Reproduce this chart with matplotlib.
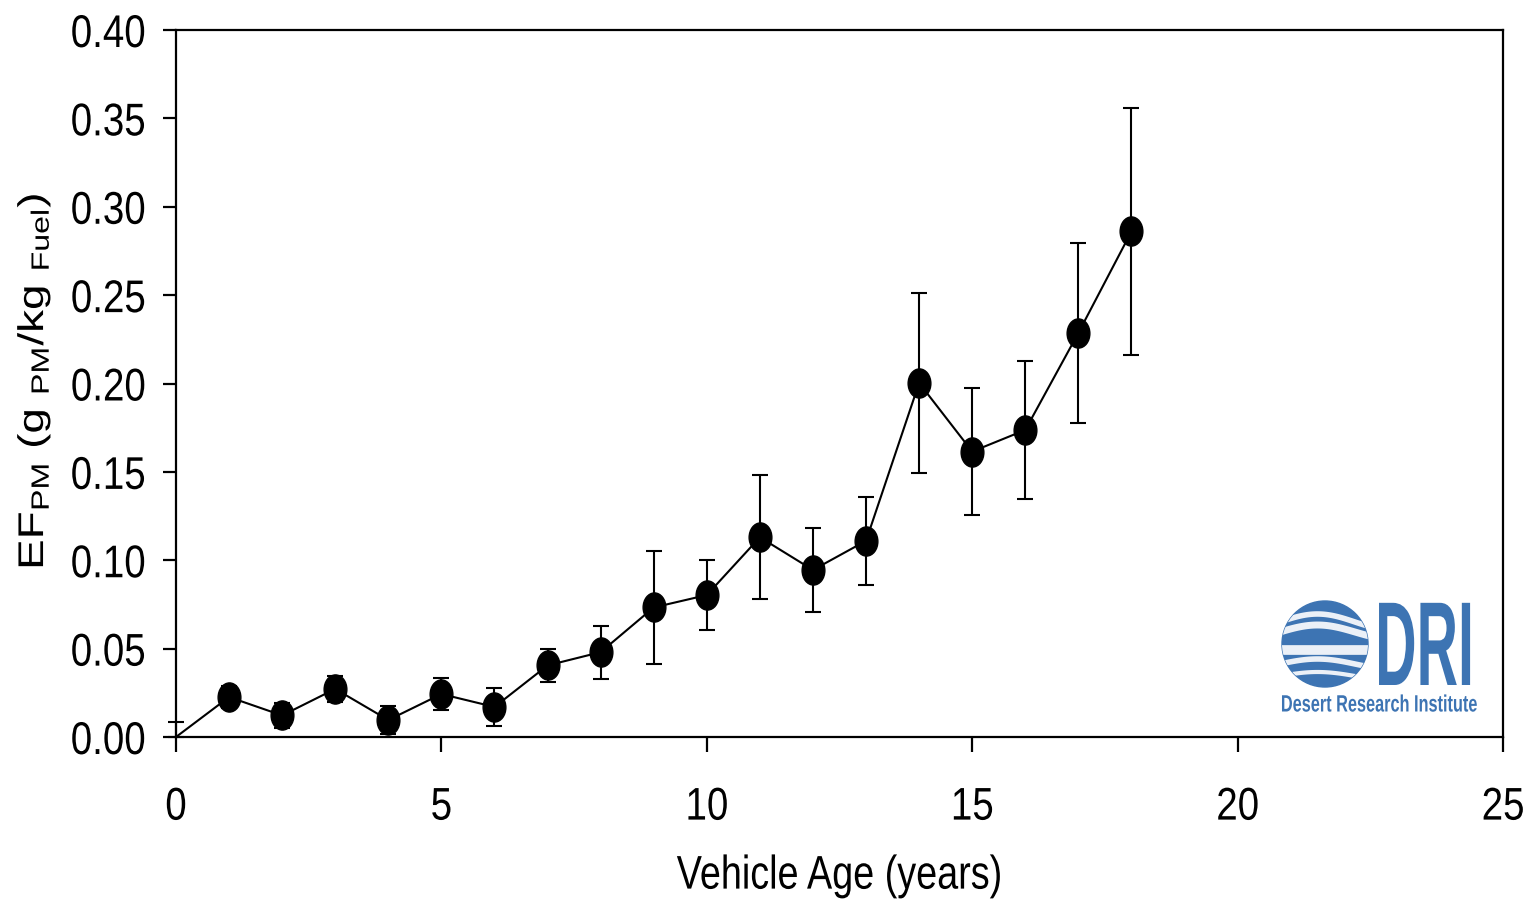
import matplotlib
matplotlib.use("Agg")
import matplotlib.pyplot as plt
import numpy as np
from matplotlib.path import Path
from matplotlib.transforms import Affine2D
from matplotlib.patches import Circle
from matplotlib.patheffects import AbstractPathEffect

# Data
age = [0, 1, 2, 3, 4, 5, 6, 7, 8, 9, 10, 11, 12, 13, 14, 15, 16, 17, 18]
ef_pm = [0.0, 0.0226, 0.0122, 0.0272, 0.0096, 0.0243, 0.0170, 0.0405, 0.0480,
         0.0733, 0.0803, 0.1130, 0.0945, 0.1110, 0.2003, 0.1615, 0.1737, 0.2286, 0.2860]
err = [0.0085, 0.006, 0.007, 0.0075, 0.008, 0.009, 0.011, 0.0095, 0.015,
       0.032, 0.020, 0.035, 0.024, 0.025, 0.051, 0.036, 0.039, 0.051, 0.070]
x_ticks = [0, 5, 10, 15, 20, 25]
y_ticks = [0.00, 0.05, 0.10, 0.15, 0.20, 0.25, 0.30, 0.35, 0.40]


class Squeeze(AbstractPathEffect):
    # squeeze text horizontally (screen x) to mimic the narrow look of the original
    def __init__(self, sx, anchor="center"):
        super().__init__()
        self.sx = sx
        self.anchor = anchor

    def draw_path(self, renderer, gc, tpath, affine, rgbFace=None):
        ext = affine.transform_path(tpath).get_extents()
        if self.anchor == "right":
            x0 = ext.x1
        elif self.anchor == "left":
            x0 = ext.x0
        else:
            x0 = 0.5 * (ext.x0 + ext.x1)
        aff = affine + Affine2D().translate(-x0, 0).scale(self.sx, 1).translate(x0, 0)
        renderer.draw_path(gc, tpath, aff, rgbFace)


plt.rcParams["mathtext.default"] = "regular"
sans = ["Liberation Sans", "DejaVu Sans"]

fig = plt.figure(figsize=(15.32, 9.02), dpi=100)
ax = fig.add_axes([176 / 1532, 1 - 737 / 902, 1327 / 1532, 707 / 902])

# Tall ellipse marker
ellipse = Affine2D().scale(0.78, 1.0).transform_path(Path.unit_circle())

ax.plot(age, ef_pm, color="black", lw=1.5, zorder=2)
ax.errorbar(age[1:], ef_pm[1:], yerr=err[1:], fmt="none", ecolor="black",
            elinewidth=1.5, capsize=6, capthick=1.5, zorder=2)
# point at 0 only shows its upper error cap
ax.errorbar(age[:1], ef_pm[:1], yerr=[[0], err[:1]], fmt="none", ecolor="black",
            elinewidth=1.5, capsize=6, capthick=1.5, zorder=2, clip_on=False)
ax.plot(age[1:], ef_pm[1:], linestyle="none", marker=ellipse, markersize=21,
        color="black", zorder=3)

ax.set_xlim(0, 25)
ax.set_ylim(0, 0.40)
ax.set_xticks(x_ticks)
ax.set_yticks(y_ticks)
ax.set_yticklabels([f"{v:.2f}" for v in y_ticks])

for s in ax.spines.values():
    s.set_linewidth(1.6)
ax.tick_params(direction="out", width=1.6, labelsize=33, top=False, right=False)
ax.tick_params(axis="x", length=11, pad=24)
ax.tick_params(axis="y", length=9.5, pad=12)
for lab in ax.get_xticklabels():
    lab.set_family(sans)
    lab.set_path_effects([Squeeze(0.84, "center")])
for lab in ax.get_yticklabels():
    lab.set_family(sans)
    lab.set_path_effects([Squeeze(0.84, "right")])

ax.set_xlabel("Vehicle Age (years)", fontsize=34, family=sans, labelpad=18,
              path_effects=[Squeeze(0.8, "center")])
ax.set_ylabel("EF$_{PM}$ (g $_{PM}$/kg $_{Fuel}$)", fontsize=33,
              family=sans, path_effects=[Squeeze(0.78, "center")])
ax.yaxis.set_label_coords(-0.089, 0.503)

# DRI logo (approximation), axes in pixel coordinates
blue = "#3d74b3"
lax = fig.add_axes([1270 / 1532, 1 - 725 / 902, 222 / 1532, 135 / 902])
lax.set_xlim(1270, 1492)
lax.set_ylim(725, 590)
lax.axis("off")
globe = Circle((1325, 644), 43, color=blue)
lax.add_patch(globe)
t = np.linspace(1280, 1370, 60)
bands = [(622, 4, 8), (632, 5, 7), (650, 7, 0), (664, 4, 5), (676, 3, 4)]
for y0, w, amp in bands:
    ln, = lax.plot(t, y0 - amp * np.sin((t - 1280) / 90 * np.pi * 1.2),
                   color="white", lw=w, alpha=0.9)
    ln.set_clip_path(globe)
lax.text(1478, 685, "DRI", color=blue, fontsize=86, fontweight="bold",
         ha="right", va="baseline", family=sans,
         path_effects=[Squeeze(0.48, "right")])
lax.text(1478, 705, "Desert Research Institute", color=blue, fontsize=17,
         fontweight="bold", ha="right", va="center", family=sans,
         path_effects=[Squeeze(0.69, "right")])

fig.savefig("out.png", dpi=100)
